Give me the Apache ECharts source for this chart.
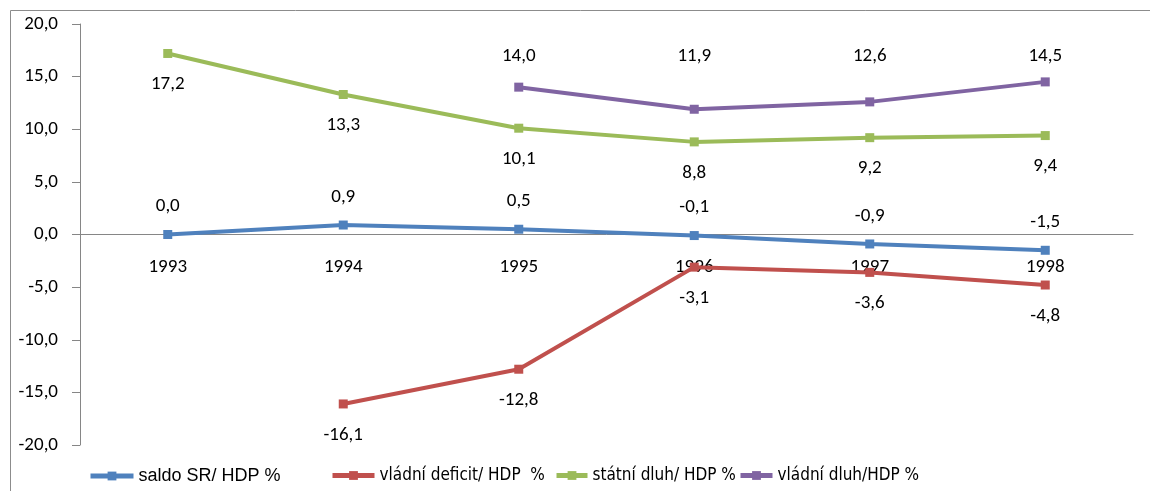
<!DOCTYPE html>
<html><head><meta charset="utf-8">
<script src="https://cdn.jsdelivr.net/npm/echarts@6/dist/echarts.min.js"></script>
<style>html,body{margin:0;padding:0;background:#fff}#c{width:1150px;height:491px}</style>
</head><body><div id="c"></div>
<script>
const years = ['1993','1994','1995','1996','1997','1998'];
const saldo = [0.0, 0.9, 0.5, -0.1, -0.9, -1.5];
const deficit = [null, -16.1, -12.8, -3.1, -3.6, -4.8];
const statniDluh = [17.2, 13.3, 10.1, 8.8, 9.2, 9.4];
const vladniDluh = [null, null, 14.0, 11.9, 12.6, 14.5];
const names = ['saldo SR/ HDP %', 'vládní deficit/ HDP  %', 'státní dluh/ HDP %', 'vládní dluh/HDP %'];
const yTicks = {min: -20, max: 20, step: 5};

const FONT = 'Carlito, Lato, sans-serif';
const WIDE = '"Liberation Sans", Arial, sans-serif';
const NARROW = '"Liberation Sans Narrow", "DejaVu Sans Condensed", sans-serif';
const fmt = v => v.toFixed(1).replace('.', ',');
const colors = ['#4F81BD', '#C0504D', '#9BBB59', '#8064A2'];
const labelPos = ['top', 'bottom', 'bottom', 'top'];
const labelDist = [14, 17, 17, 17];
const datas = [saldo, deficit, statniDluh, vladniDluh];

const W = 1150, H = 491;
const gridTop = 24, gridBottom = 46;
const gridH = H - gridTop - gridBottom;
const pxPerUnit = gridH / (yTicks.max - yTicks.min);
const zeroFromBottom = pxPerUnit * (0 - yTicks.min);
// purple labels are lined up on one row in the original
const purpleLabelRow = 16.6;

const chart = echarts.init(document.getElementById('c'));
const series = datas.map((d, i) => ({
  name: names[i], type: 'line', color: colors[i],
  data: i === 3 ? d.map(v => v == null ? null : {value: v, label: {distance: (purpleLabelRow - v) * pxPerUnit - 10}}) : d,
  symbol: 'rect', symbolSize: 9, connectNulls: false,
  lineStyle: {width: 4, color: colors[i]},
  itemStyle: {color: colors[i]},
  z: i === 1 ? 5 : 3,
  label: {show: true, position: labelPos[i], distance: labelDist[i], fontFamily: FONT, fontSize: 19, color: '#000',
    formatter: p => fmt(p.value)}
}));
const legendLefts = [83, 325, 549, 733];
const legendWidths = [43, 42, 31, 32];
const legendFonts = [[WIDE, 18], [NARROW, 17], [NARROW, 17], [NARROW, 17]];
const legends = names.map((n, i) => ({
  data: [n], left: legendLefts[i], top: 462, itemWidth: legendWidths[i], itemHeight: 11,
  lineStyle: {width: 5}, itemGap: 5,
  textStyle: {fontFamily: legendFonts[i][0], fontSize: legendFonts[i][1], color: '#000'}, selectedMode: false
}));
chart.setOption({
  animation: false,
  grid: {left: 80, right: 17, top: gridTop, bottom: gridBottom},
  graphic: [{type: 'rect', shape: {x: 10.5, y: 10.5, width: 1160, height: 500}, style: {fill: 'none', stroke: '#8c8c8c', lineWidth: 1}, silent: true}],
  legend: legends,
  xAxis: {type: 'category', data: years, boundaryGap: true, position: 'bottom',
    offset: -zeroFromBottom,
    axisLine: {onZero: false, lineStyle: {color: '#868686', width: 1}},
    axisTick: {show: false},
    axisLabel: {margin: 23, fontFamily: FONT, fontSize: 19, color: '#000'},
    z: 2},
  yAxis: {type: 'value', min: yTicks.min, max: yTicks.max, interval: yTicks.step,
    splitLine: {show: false},
    axisLine: {show: true, lineStyle: {color: '#868686'}},
    axisTick: {show: true, length: 8, lineStyle: {color: '#868686'}},
    axisLabel: {margin: 22, fontFamily: FONT, fontSize: 19, color: '#000', formatter: v => fmt(v)}},
  series: series
});
</script></body></html>
